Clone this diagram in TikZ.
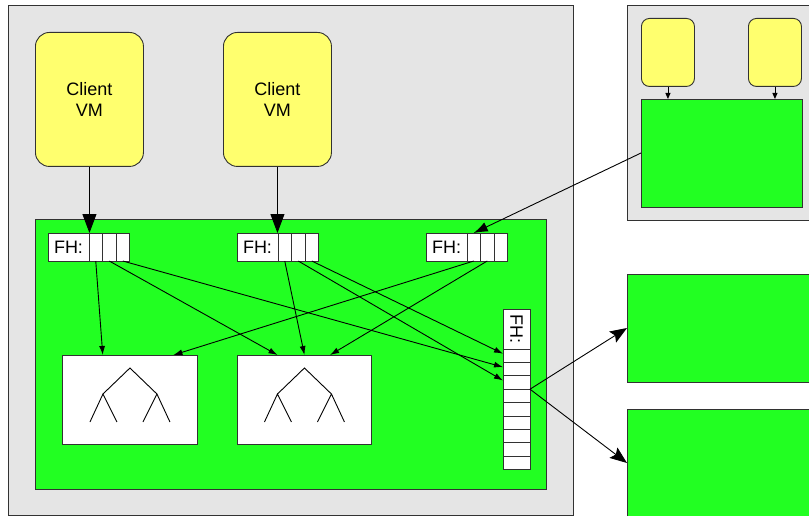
\documentclass[tikz,border=0pt]{standalone}
\usepackage{fontspec}
\setmainfont{Liberation Sans}
\usetikzlibrary{arrows.meta,calc,positioning}

\definecolor{hostgray}{RGB}{229,229,229}
\definecolor{vmyellow}{RGB}{255,255,110}
\definecolor{srvgreen}{RGB}{34,255,34}
\definecolor{edgegray}{RGB}{50,50,50}

\tikzset{every picture/.style={line width=0.9pt}}
\tikzset{
  hostbox/.style={draw=edgegray, fill=hostgray, anchor=north west, inner sep=0pt, outer sep=0pt},
  srvbox/.style={draw=edgegray, fill=srvgreen, anchor=north west, inner sep=0pt, outer sep=0pt},
  vmbox/.style={draw=edgegray, fill=vmyellow, anchor=north west, rounded corners=14pt,
    minimum width=108pt, minimum height=134pt, align=center, inner sep=0pt,
    font=\fontsize{18pt}{21pt}\selectfont},
  treebox/.style={draw=edgegray, fill=white, anchor=north west, inner sep=0pt,
    minimum width=135pt, minimum height=89pt},
  fhlabel/.style={draw=edgegray, fill=white, anchor=north west, inner sep=0pt, outer sep=0pt,
    minimum width=41pt, minimum height=28pt, font=\fontsize{18pt}{21pt}\selectfont},
  fhcell/.style={draw=edgegray, fill=white, inner sep=0pt, outer sep=0pt,
    minimum width=13.5pt, minimum height=28pt},
  vfhcell/.style={draw=edgegray, fill=white, inner sep=0pt, outer sep=0pt,
    minimum width=27pt, minimum height=13.4pt},
  bigarrow/.style={-{Triangle[length=19pt,width=14pt]}},
  arr/.style={-{Latex[length=9pt,width=6pt]}},
  midarrow/.style={-{Latex[length=14pt,width=10pt]}},
  outarrow/.style={-{Stealth[length=17pt,width=13pt,inset=3pt]}},
  tinyarrow/.style={-{Triangle[length=6pt,width=5pt]}}
}

\begin{document}
\begin{tikzpicture}[x=1pt,y=1pt,yscale=-1]
\useasboundingbox (0,0) rectangle (809,516);

% Hosts
\node[hostbox, minimum width=565pt, minimum height=510pt] (host) at (8,5) {};
\node[hostbox, minimum width=190pt, minimum height=215pt] (rhost) at (627,5) {};

% Client VMs
\node[vmbox] (vm1) at (35,32) {Client\\VM};
\node[vmbox] (vm2) at (223,32) {Client\\VM};
\node[vmbox, minimum width=53pt, minimum height=68pt, rounded corners=8pt] (svm1) at (641,18) {};
\node[vmbox, minimum width=53pt, minimum height=68pt, rounded corners=8pt] (svm2) at (748,18) {};

% Servers
\node[srvbox, minimum width=511pt, minimum height=270pt] (srv) at (35,219) {};
\node[srvbox, minimum width=161pt, minimum height=108pt] (rsrv) at (641,99) {};
\node[srvbox, minimum width=190pt, minimum height=108pt] (disk1) at (627,274) {};
\node[srvbox, minimum width=190pt, minimum height=108pt] (disk2) at (627,409) {};

% Trees
\node[treebox] (tree1) at (62,355) {};
\node[treebox, minimum width=134pt] (tree2) at (237,355) {};
\foreach \t in {tree1,tree2}
  \draw ($(\t.north)+(-40,67)$) -- ++(13,-28) -- ++(14,28) ++(-14,-28) -- ++(27,-26)
    -- ++(27,26) -- ++(-14,28) ++(14,-28) -- ++(13,28);

% FH tables
\foreach \n/\x in {1/48,2/237,3/426}{
  \node[fhlabel] (fh\n-0) at (\x,233) {FH:};
  \foreach \c [count=\p from 0] in {1,2,3}
    \node[fhcell, right=0pt of fh\n-\p] (fh\n-\c) {};
}
\node[fhlabel, minimum width=27pt, minimum height=40pt] (vfh-0) at (503,309) {\rotatebox{-90}{FH:}};
\foreach \c [count=\p from 0] in {1,...,9}
  \node[vfhcell, below=0pt of vfh-\p] (vfh-\c) {};

% Arrow targets
\coordinate (t1a) at ($(tree1.north west)!0.30!(tree1.north east)$);
\coordinate (t1b) at ($(tree1.north west)!0.82!(tree1.north east)$);
\coordinate (t2a) at ($(tree2.north west)!0.30!(tree2.north east)$);
\coordinate (t2b) at ($(tree2.north west)!0.69!(tree2.north east)$);

% Connectors
\draw[bigarrow] (vm1.south) -- (vm1.south |- fh1-0.north);
\draw[bigarrow] (vm2.south) -- (vm2.south |- fh2-0.north);
\draw[tinyarrow] (svm1.south) -- (svm1.south |- rsrv.north);
\draw[tinyarrow] (svm2.south) -- (svm2.south |- rsrv.north);
\draw[midarrow] (rsrv.west) -- (fh3-1.north);

\draw[arr] (fh1-1.south) -- (t1a);
\draw[arr] (fh1-2.south) -- (t2a);
\draw[arr] (fh1-3.south) -- ($(vfh-2.west)+(0,-2)$);
\draw[arr] (fh2-1.south) -- (tree2.north);
\draw[arr] (fh2-2.south) -- ($(vfh-3.west)+(0,-2)$);
\draw[arr] (fh2-3.south) -- ($(vfh-1.west)+(0,-2)$);
\draw[arr] (fh3-1.south) -- (t1b);
\draw[arr] (fh3-2.south) -- (t2b);

\draw[outarrow] (vfh-3.south east) -- (disk1.west);
\draw[outarrow] (vfh-3.south east) -- (disk2.west);
\end{tikzpicture}
\end{document}
